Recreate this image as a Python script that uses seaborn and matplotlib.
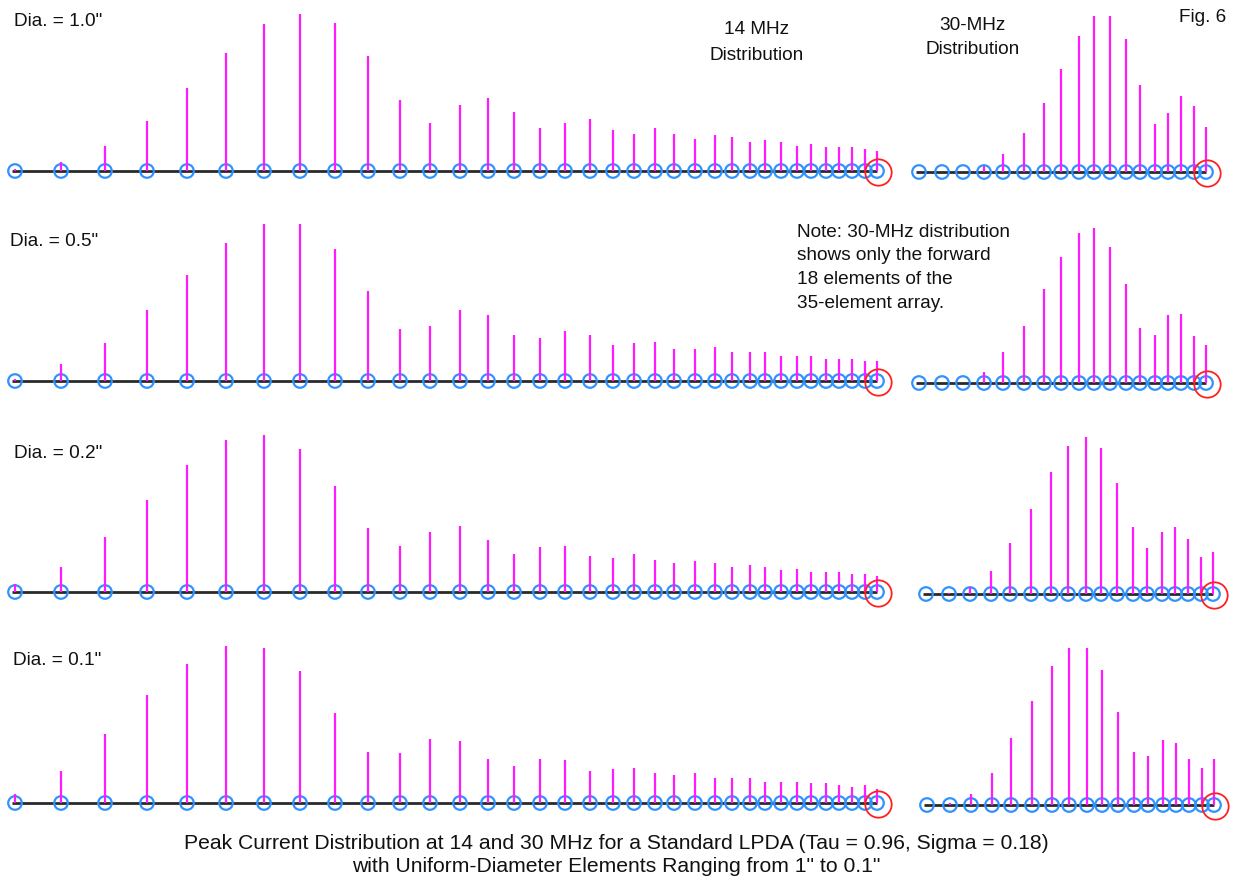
import matplotlib
matplotlib.use("Agg")
import matplotlib.pyplot as plt
import seaborn as sns
import numpy as np
import pandas as pd

# ---------------- data ----------------
# element positions along the boom (rear -> front), 35 elements
positions = [15, 61, 105, 147, 187, 226, 264, 300, 335, 368, 400, 430, 460, 488,
             514, 540, 565, 590, 613, 634, 655, 674, 695, 715, 732, 750, 765, 781,
             797, 811, 826, 839, 852, 865, 877]

diameters = ['Dia. = 1.0"', 'Dia. = 0.5"', 'Dia. = 0.2"', 'Dia. = 0.1"']

# relative peak current, 14 MHz (all 35 elements)
cur14_d10 = [2, 9, 25, 50, 83, 118, 147, 157, 148, 115, 71, 48, 66, 73, 59, 43, 48, 52,
             41, 37, 43, 37, 32, 36, 34, 29, 31, 29, 25, 27, 24, 24, 24, 22, 20]
cur14_d05 = [2, 17, 38, 71, 106, 138, 157, 157, 132, 90, 52, 55, 71, 66, 46, 43, 50, 46,
             36, 38, 39, 32, 32, 34, 29, 29, 29, 25, 25, 25, 22, 22, 22, 20, 20]
cur14_d02 = [8, 25, 55, 92, 127, 152, 157, 143, 106, 64, 46, 60, 66, 52, 38, 45, 46, 36,
             34, 38, 32, 29, 31, 29, 25, 27, 25, 22, 23, 20, 20, 20, 18, 18, 16]
cur14_d01 = [9, 32, 69, 108, 139, 157, 155, 132, 90, 51, 50, 64, 62, 44, 37, 44, 43, 32,
             34, 35, 30, 28, 30, 25, 25, 25, 21, 21, 21, 20, 20, 18, 16, 18, 14]

# relative peak current, 30 MHz (forward 18 elements only)
cur30_d10 = [0, 0, 0, 6, 18, 39, 69, 103, 136, 156, 156, 133, 87, 48, 59, 76, 66, 45]
cur30_d05 = [0, 0, 0, 11, 31, 57, 94, 126, 150, 155, 136, 99, 55, 48, 68, 69, 47, 38]
cur30_d02 = [0, 1, 7, 23, 51, 85, 122, 148, 157, 146, 111, 67, 46, 62, 67, 55, 37, 42]
cur30_d01 = [0, 2, 11, 32, 67, 104, 139, 157, 157, 135, 93, 53, 49, 65, 62, 46, 37, 46]

cur14 = [cur14_d10, cur14_d05, cur14_d02, cur14_d01]
cur30 = [cur30_d10, cur30_d05, cur30_d02, cur30_d01]
N30 = 18

# ---------------- style ----------------
sns.set_theme(style="white")
plt.rcParams['font.family'] = ['Liberation Sans', 'DejaVu Sans']

W, H = 1237, 880
fig = plt.figure(figsize=(W / 100, H / 100), dpi=100)
fig.patch.set_facecolor("white")

STEM = "#FF1AFF"
CIRC = "#3092FF"
BASE = "#2a2a2a"
RED = "#FF2020"

TOP, BOT = 170, 18


def add_ax(x0, x1, ybase):
    ax = fig.add_axes([x0 / W, (H - (ybase + BOT)) / H, (x1 - x0) / W, (TOP + BOT) / H])
    ax.set_ylim(-BOT, TOP)
    ax.set_axis_off()
    return ax


def draw(ax, pos, cur):
    df = pd.DataFrame({"pos": pos, "cur": cur, "zero": np.zeros(len(pos))})
    ax.hlines(0, df.pos.iloc[0] - 3, df.pos.iloc[-1], color=BASE, lw=2.0, zorder=2)
    sns.scatterplot(data=df, x="pos", y="zero", ax=ax, marker="o", s=95,
                    facecolors="none", edgecolors=CIRC, linewidth=1.6, zorder=3,
                    legend=False)
    ax.vlines(df.pos[df.cur > 0], 0, df.cur[df.cur > 0], color=STEM, lw=1.6, zorder=4)
    ax.scatter([df.pos.iloc[-1] + 1.5], [-1.5], s=360, facecolors="none",
               edgecolors=RED, linewidths=1.3, zorder=5)
    ax.set_xlabel("")
    ax.set_ylabel("")


base_left = [171, 381, 592, 803]
base_right = [172, 383, 594, 805]
right_shift = [329, 329, 336, 337]

for r in range(4):
    axl = add_ax(0, 895, base_left[r])
    axl.set_xlim(0, 895)
    draw(axl, positions, cur14[r])

    axr = add_ax(900, 1237, base_right[r])
    axr.set_xlim(900 - right_shift[r], 1237 - right_shift[r])
    draw(axr, positions[-N30:], cur30[r])


def ftext(x, y, s, **kw):
    fig.text(x / W, 1 - y / H, s, **kw)


FS = 13.7
dia_xy = [(14, 22), (10, 242), (14, 453), (13, 660)]
for (x, y), s in zip(dia_xy, diameters):
    ftext(x, y, s, fontsize=FS, ha="left", va="center", color="#111")

ftext(757, 30, "14 MHz", fontsize=FS, ha="center", va="center", color="#111")
ftext(757, 56, "Distribution", fontsize=FS, ha="center", va="center", color="#111")
ftext(973, 26, "30-MHz", fontsize=FS, ha="center", va="center", color="#111")
ftext(973, 50, "Distribution", fontsize=FS, ha="center", va="center", color="#111")
ftext(1226, 18, "Fig. 6", fontsize=FS, ha="right", va="center", color="#111")

note = ["Note: 30-MHz distribution", "shows only the forward",
        "18 elements of the", "35-element array."]
for i, line in enumerate(note):
    ftext(797, 232 + 24 * i, line, fontsize=FS, ha="left", va="center", color="#111")

ftext(616, 843, "Peak Current Distribution at 14 and 30 MHz for a Standard LPDA (Tau = 0.96, Sigma = 0.18)",
      fontsize=15.2, ha="center", va="center", color="#111")
ftext(616, 866, "with Uniform-Diameter Elements Ranging from 1\" to 0.1\"",
      fontsize=15.2, ha="center", va="center", color="#111")

fig.savefig("out.png", dpi=100, facecolor="white")
